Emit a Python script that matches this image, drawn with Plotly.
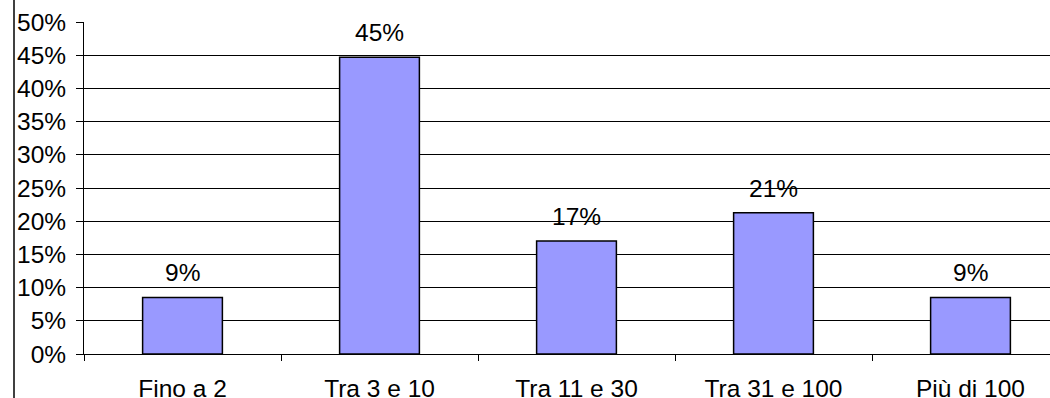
import plotly.graph_objects as go

categories = ["Fino a 2", "Tra 3 e 10", "Tra 11 e 30", "Tra 31 e 100", "Più di 100"]
values = [8.51, 44.68, 17.02, 21.28, 8.51]
labels = ["9%", "45%", "17%", "21%", "9%"]
y_ticks = [0, 5, 10, 15, 20, 25, 30, 35, 40, 45, 50]
y_tick_text = [f"{t}%" for t in y_ticks]

FONT = "Liberation Sans, Arial, sans-serif"
FS = 24.5

fig = go.Figure()
fig.add_trace(go.Bar(
    x=categories, y=values,
    marker=dict(color="#9999FF", line=dict(color="#000000", width=1.5)),
    width=0.405,
    hoverinfo="skip",
))

for c, v, t in zip(categories, values, labels):
    fig.add_annotation(x=c, y=v, text=t, showarrow=False, yanchor="bottom",
                       yshift=9, font=dict(family=FONT, size=FS, color="#000"))

W, H = 1050, 398
ml, mt, mb = 84, 22, 44
plot_w = W - ml
plot_h = H - mt - mb
cat_px = 197.0
x_end = -0.5 + plot_w / cat_px

# chart-area left border
bx = (14 - ml) / plot_w
fig.add_shape(type="line", xref="paper", yref="paper",
              x0=bx, x1=bx, y0=-0.3, y1=1.2,
              line=dict(color="#000", width=1.5))

fig.update_layout(
    width=W, height=H,
    margin=dict(l=ml, r=0, t=mt, b=mb, pad=0, autoexpand=False),
    paper_bgcolor="white", plot_bgcolor="white",
    font=dict(family=FONT, size=FS, color="#000"),
    showlegend=False,
    bargap=0.6,
    xaxis=dict(
        range=[-0.5, x_end],
        automargin=False,
        showline=True, linecolor="#000", linewidth=1,
        ticks="outside", tickson="boundaries", ticklen=6, tickcolor="#000", tickwidth=1,
        showgrid=False, zeroline=False,
        ticklabelstandoff=13,
        tickfont=dict(family=FONT, size=FS, color="#000"),
    ),
    yaxis=dict(
        range=[0, 50],
        automargin=False,
        tickvals=y_ticks, ticktext=y_tick_text,
        showline=True, linecolor="#000", linewidth=1,
        ticks="outside", ticklen=7, tickcolor="#000", tickwidth=1,
        showgrid=True, gridcolor="#000", gridwidth=1,
        zeroline=False,
        ticklabelstandoff=5,
        tickfont=dict(family=FONT, size=FS, color="#000"),
    ),
)

fig.write_html("out.html")
